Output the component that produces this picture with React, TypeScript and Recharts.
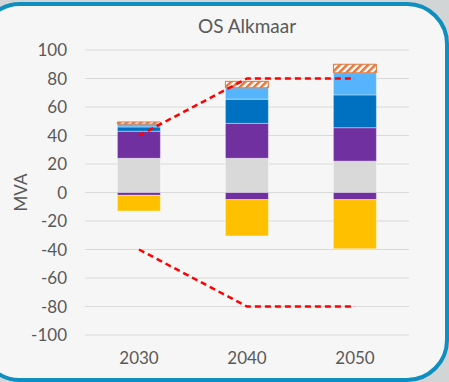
import React from 'react';
import { ComposedChart, Bar, Line, XAxis, YAxis, CartesianGrid } from 'recharts';

// Categories and stacked series values (MVA)
const years = ['2030', '2040', '2050'];
const grayUp = [24, 24, 22];
const purpleUp = [19, 24.5, 23.5];
const darkBlueUp = [3, 17, 23];
const lightBlueUp = [2, 8, 15.5];
const hatchedUp = [1.5, 4.5, 6];
const purpleDown = [-2, -5, -5];
const yellowDown = [-11, -25.5, -34.5];
const upperLimit = [40, 80, 80];
const lowerLimit = [-40, -80, -80];
const yTicks = [100, 80, 60, 40, 20, 0, -20, -40, -60, -80, -100];

const data = years.map((year, i) => ({
  year,
  grayUp: grayUp[i],
  purpleUp: purpleUp[i],
  darkBlueUp: darkBlueUp[i],
  lightBlueUp: lightBlueUp[i],
  hatchedUp: hatchedUp[i],
  purpleDown: purpleDown[i],
  yellowDown: yellowDown[i],
  upperLimit: upperLimit[i],
  lowerLimit: lowerLimit[i],
}));

const FONT = 'Lato, "Open Sans", sans-serif';
const TEXT = '#595959';

const AxisTitle = (props: any) => {
  const vb = props.viewBox || {};
  const cx = 20;
  const cy = vb.y + vb.height / 2;
  return (
    <text
      x={cx}
      y={cy}
      transform={`rotate(-90 ${cx} ${cy})`}
      textAnchor="middle"
      dominantBaseline="central"
      fill={TEXT}
      fontSize={17}
      fontFamily={FONT}
    >
      MVA
    </text>
  );
};

export default function App() {
  const segStroke = { stroke: '#ffffff', strokeOpacity: 0.5, strokeWidth: 0.8 };
  return (
    <div style={{ position: 'fixed', left: 0, top: 0, width: 449, height: 382, overflow: 'hidden', background: '#d2d5d6' }}>
      <div
        style={{
          position: 'absolute',
          left: -22,
          top: 2,
          width: 463,
          height: 372,
          border: '4px solid #0e8fc0',
          borderRadius: 42,
          background: '#f6f6f6',
        }}
      />
      <div style={{ position: 'absolute', left: 0, top: 0 }}>
        <div
          style={{
            position: 'absolute',
            left: 85,
            width: 324,
            top: 14,
            textAlign: 'center',
            color: TEXT,
            fontFamily: FONT,
            fontSize: 19,
            lineHeight: '24px',
          }}
        >
          OS Alkmaar
        </div>
        <ComposedChart
          width={449}
          height={382}
          data={data}
          stackOffset="sign"
          barCategoryGap="30%"
          margin={{ top: 50, right: 40, bottom: 17, left: 25 }}
        >
          <defs>
            <pattern id="hatchFill" patternUnits="userSpaceOnUse" width="5" height="5" patternTransform="rotate(45)">
              <rect width="5" height="5" fill="#ffffff" />
              <rect width="2.6" height="5" fill="#e07a3f" />
            </pattern>
          </defs>
          <CartesianGrid vertical={false} stroke="#dadada" strokeWidth={1} />
          <XAxis
            dataKey="year"
            axisLine={false}
            tickLine={false}
            tickSize={0}
            tickMargin={17}
            height={30}
            tick={{ fill: TEXT, fontSize: 17, fontFamily: FONT }}
          />
          <YAxis
            width={60}
            domain={[-100, 100]}
            ticks={yTicks}
            interval={0}
            axisLine={false}
            tickLine={false}
            tickSize={0}
            tickMargin={18}
            tick={{ fill: TEXT, fontSize: 17, fontFamily: FONT }}
            label={<AxisTitle />}
          />
          <Bar dataKey="grayUp" stackId="s" fill="#d9d9d9" {...segStroke} isAnimationActive={false} />
          <Bar dataKey="purpleUp" stackId="s" fill="#7030a0" {...segStroke} isAnimationActive={false} />
          <Bar dataKey="darkBlueUp" stackId="s" fill="#0070c0" {...segStroke} isAnimationActive={false} />
          <Bar dataKey="lightBlueUp" stackId="s" fill="#55b4fc" {...segStroke} isAnimationActive={false} />
          <Bar dataKey="hatchedUp" stackId="s" fill="url(#hatchFill)" stroke="#e07a3f" strokeWidth={1} isAnimationActive={false} />
          <Bar dataKey="purpleDown" stackId="s" fill="#7030a0" {...segStroke} isAnimationActive={false} />
          <Bar dataKey="yellowDown" stackId="s" fill="#ffc000" {...segStroke} isAnimationActive={false} />
          <Line
            dataKey="upperLimit"
            type="linear"
            stroke="#ff0000"
            strokeWidth={2.5}
            strokeDasharray="6 4"
            dot={false}
            activeDot={false}
            isAnimationActive={false}
          />
          <Line
            dataKey="lowerLimit"
            type="linear"
            stroke="#ff0000"
            strokeWidth={2.5}
            strokeDasharray="6 4"
            dot={false}
            activeDot={false}
            isAnimationActive={false}
          />
        </ComposedChart>
      </div>
    </div>
  );
}
